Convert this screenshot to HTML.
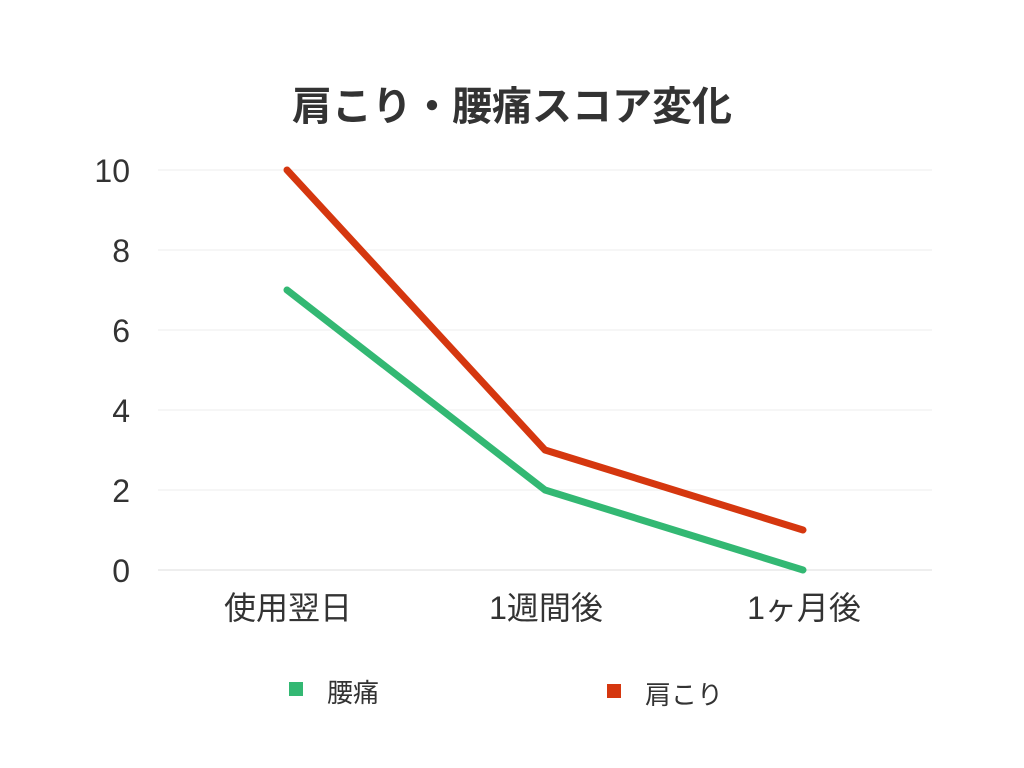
<!DOCTYPE html>
<html><head><meta charset="utf-8"><style>
html,body{margin:0;padding:0;background:#fff;}
svg{display:block;font-family:"Liberation Sans","Noto Sans CJK JP",sans-serif;}
</style></head><body>
<svg id="chart" width="1024" height="768" viewBox="0 0 1024 768" xmlns="http://www.w3.org/2000/svg">
<rect width="1024" height="768" fill="#fff"/>
<text x="512" y="120" text-anchor="middle" font-size="40" font-weight="bold" fill="#333">肩こり・腰痛スコア変化</text>
<g id="grid"></g>
<g id="yticks"></g>
<g id="xticks"></g>
<g id="series"></g>
<g>
<g>
<rect x="289" y="682" width="14" height="14" fill="#33b873"/>
<text x="327" y="702" font-size="26" fill="#333">腰痛</text></g>
<g>
<rect x="607" y="684" width="14" height="14" fill="#d5370f"/>
<text x="645" y="704" font-size="26" fill="#333">肩こり</text></g>
</g>
</svg>
<script>
const categories=["使用翌日","1週間後","1ヶ月後"];
const lumbago=[7,2,0];
const shoulder=[10,3,1];
const yTicks=[0,2,4,6,8,10];
const NS="http://www.w3.org/2000/svg";
const x0=158,x1=932,y0=570,yTop=170,yMax=10;
const band=(x1-x0)/categories.length;
function xs(i){return x0+band*(i+0.5)-0;}
function ys(v){return y0-(v/yMax)*(y0-yTop);}
const grid=document.getElementById('grid'),yt=document.getElementById('yticks'),xt=document.getElementById('xticks'),se=document.getElementById('series');
yTicks.forEach(v=>{
 const l=document.createElementNS(NS,'line');
 
 
 l.setAttribute('x1',x0);l.setAttribute('x2',x1);l.setAttribute('y1',ys(v));l.setAttribute('y2',ys(v));
 l.setAttribute('stroke',v===0?'#ddd':'#eee');l.setAttribute('stroke-width','1');
 grid.appendChild(l);
 const t=document.createElementNS(NS,'text');
 
 
 t.setAttribute('x',130);t.setAttribute('y',ys(v)+12);t.setAttribute('text-anchor','end');
 t.setAttribute('font-size','32');t.setAttribute('fill','#333');t.textContent=v;
 yt.appendChild(t);
});
categories.forEach((c,i)=>{
 const t=document.createElementNS(NS,'text');
 
 
 t.setAttribute('x',xs(i)+1);t.setAttribute('y',619);t.setAttribute('text-anchor','middle');
 t.setAttribute('font-size','32');t.setAttribute('fill','#333');t.textContent=c;
 xt.appendChild(t);
});
function line(vals,color,name){
 const p=document.createElementNS(NS,'polyline');
 
 
 p.setAttribute('points',vals.map((v,i)=>xs(i)+','+ys(v)).join(' '));
 p.setAttribute('fill','none');p.setAttribute('stroke',color);p.setAttribute('stroke-width','7');
 p.setAttribute('stroke-linecap','round');p.setAttribute('stroke-linejoin','round');
 se.appendChild(p);
}
line(lumbago,'#33b873','line-lumbago');
line(shoulder,'#d5370f','line-shoulder');
</script>
</body></html>
